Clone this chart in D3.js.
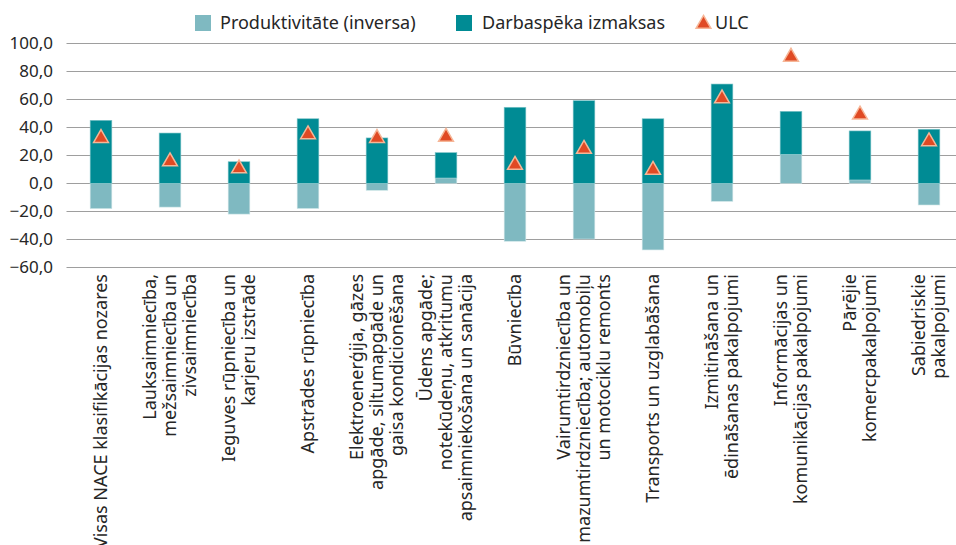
<!DOCTYPE html>
<html>
<head>
<meta charset="utf-8">
<script src="https://cdn.jsdelivr.net/npm/d3@7"></script>
<style>
  body { margin: 0; background: #fff; }
  text { font-family: "Noto Sans", sans-serif; fill: #262626; }
</style>
</head>
<body>
<svg id="chart" width="956" height="545"></svg>
<script>
// categories (lines split by "|")
var categories = [
  "Visas NACE klasifikācijas nozares",
  "Lauksaimniecība,|mežsaimniecība un|zivsaimniecība",
  "Ieguves rūpniecība un|karjeru izstrāde",
  "Apstrādes rūpniecība",
  "Elektroenerģija, gāzes|apgāde, siltumapgāde un|gaisa kondicionēšana",
  "Ūdens apgāde;|notekūdeņu, atkritumu|apsaimniekošana un sanācija",
  "Būvniecība",
  "Vairumtirdzniecība un|mazumtirdzniecība; automobiļu|un motociklu remonts",
  "Transports un uzglabāšana",
  "Izmitināšana un|ēdināšanas pakalpojumi",
  "Informācijas un|komunikācijas pakalpojumi",
  "Pārējie|komercpakalpojumi",
  "Sabiedriskie|pakalpojumi"
];
var productivity = [-18.1, -17.0, -22.0, -18.0, -5.0, 3.8, -41.4, -39.8, -47.6, -12.9, 20.7, 2.4, -15.5];
var labourCost   = [45.0, 35.9, 15.4, 46.1, 32.4, 18.1, 54.3, 59.0, 46.1, 70.9, 30.7, 35.0, 38.6];
var ulc          = [33.0, 16.3, 11.3, 35.6, 33.0, 33.8, 13.8, 25.2, 10.2, 61.3, 91.0, 49.7, 30.6];
var yTicks = [-60, -40, -20, 0, 20, 40, 60, 80, 100];
var seriesNames = ["Produktivitāte (inversa)", "Darbaspēka izmaksas", "ULC"];

var lightCol = "#7fb9c1";
var darkCol = "#008b94";
var triFill = "#e04a24";
var triStroke = "#f6b697";

var svg = d3.select("#chart");
var width = 956;

var x = d3.scaleBand()
    .domain(d3.range(categories.length))
    .range([66.5, 963.5])
    .paddingInner(0.686)
    .paddingOuter(0.343);

var y = d3.scaleLinear().domain([-60, 100]).range([267.3, 43.3]);

var lv = d3.formatLocale({decimal: ",", thousands: " ", grouping: [3], currency: ["", ""], minus: "\u2212"});
var fmt = lv.format(".1f");

// gridlines
svg.append("g").selectAll("line")
  .data(yTicks)
  .join("line")
    .attr("x1", 66.5)
    .attr("x2", width)
    .attr("y1", function(d) { return Math.round(y(d)) + 0.5; })
    .attr("y2", function(d) { return Math.round(y(d)) + 0.5; })
    .attr("stroke", "#9e9e9e")
    .attr("stroke-width", 1);

// y labels
svg.append("g").selectAll("text")
  .data(yTicks)
  .join("text")
    .attr("x", 53)
    .attr("y", function(d) { return y(d); })
    .attr("dy", "0.35em")
    .attr("text-anchor", "end")
    .style("font-size", "17px")
    .text(function(d) { return fmt(d); });

// productivity (light) bars
svg.append("g").selectAll("rect")
  .data(productivity)
  .join("rect")
    .attr("x", function(d, i) { return x(i); })
    .attr("width", x.bandwidth())
    .attr("y", function(d) { return y(Math.max(d, 0)); })
    .attr("height", function(d) { return Math.abs(y(d) - y(0)); })
    .attr("fill", lightCol)
    .attr("stroke", "#cfe6e8")
    .attr("stroke-width", 0.6);

// labour cost (dark) bars, stacked on positive productivity
svg.append("g").selectAll("rect")
  .data(labourCost)
  .join("rect")
    .attr("x", function(d, i) { return x(i); })
    .attr("width", x.bandwidth())
    .attr("y", function(d, i) { return y(d + Math.max(productivity[i], 0)); })
    .attr("height", function(d, i) { return y(Math.max(productivity[i], 0)) - y(d + Math.max(productivity[i], 0)); })
    .attr("fill", darkCol)
    .attr("stroke", "#7fc4c8")
    .attr("stroke-width", 0.6);

// ULC triangles
var tri = d3.symbol().type(d3.symbolTriangle).size(95);
svg.append("g").selectAll("path")
  .data(ulc)
  .join("path")
    .attr("d", tri)
    .attr("transform", function(d, i) { return "translate(" + (x(i) + x.bandwidth() / 2) + "," + (y(d) + 1) + ")"; })
    .attr("fill", triFill)
    .attr("stroke", triStroke)
    .attr("stroke-width", 1.5);

// category labels, rotated
var labelG = svg.append("g");
categories.forEach(function(c, i) {
  var lines = c.split("|");
  var cx = x(i) + x.bandwidth() / 2;
  var lh = 20;
  var t = labelG.append("text")
    .attr("transform", "translate(" + cx + ",274) rotate(-90)")
    .attr("text-anchor", "end")
    .style("font-size", "18px");
  lines.forEach(function(l, k) {
    t.append("tspan")
      .attr("x", 0)
      .attr("y", (k - (lines.length - 1) / 2) * lh)
      .attr("dy", "0.35em")
      .text(l);
  });
});

// legend
var legend = svg.append("g");
legend.append("rect").attr("x", 195).attr("y", 15).attr("width", 16).attr("height", 16).attr("fill", lightCol);
legend.append("text").attr("x", 220).attr("y", 29).style("font-size", "18px").text(seriesNames[0]);
legend.append("rect").attr("x", 456).attr("y", 15).attr("width", 16).attr("height", 16).attr("fill", darkCol);
legend.append("text").attr("x", 482).attr("y", 29).style("font-size", "18px").text(seriesNames[1]);
legend.append("path").attr("d", tri).attr("transform", "translate(703.5,24)")
  .attr("fill", triFill).attr("stroke", triStroke).attr("stroke-width", 1.5);
legend.append("text").attr("x", 715).attr("y", 29).style("font-size", "18px").text(seriesNames[2]);
</script>
</body>
</html>
